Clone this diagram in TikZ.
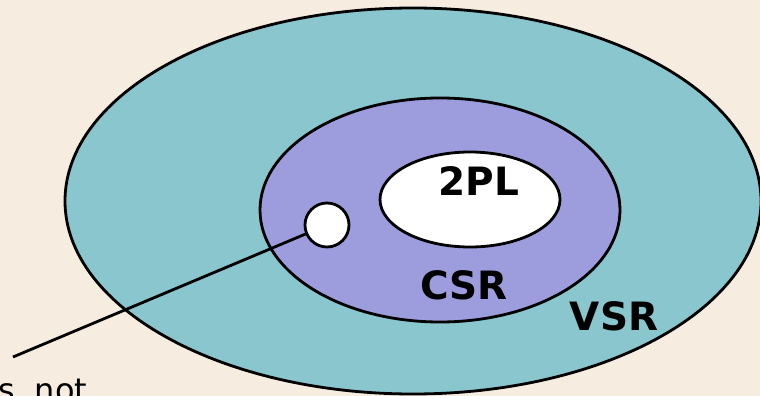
\documentclass[tikz,border=0pt]{standalone}
\usepackage{fontspec}
\setmainfont{DejaVu Sans}
\definecolor{paper}{HTML}{F6EDE0}
\definecolor{vsrfill}{HTML}{89C6CE}
\definecolor{csrfill}{HTML}{9D9DDE}
\begin{document}
\begin{tikzpicture}[x=1pt,y=-1pt,
  outline/.style={draw=black,line width=2.8pt},
  setlabel/.style={font=\fontsize{39}{41}\selectfont\bfseries,inner sep=0pt}]
  \fill[paper] (0,0) rectangle (760,396);
  \useasboundingbox (0,0) rectangle (760,396);
  \begin{scope}
    \clip (0,0) rectangle (760,396);
    % nested classes of schedules
    \draw[outline,fill=vsrfill] (413,201) ellipse [x radius=348, y radius=193];
    \draw[outline,fill=csrfill] (440,210) ellipse [x radius=180, y radius=112];
    \draw[outline,fill=white] (470,199.5) ellipse [x radius=90, y radius=47.5];
    \node[outline,fill=white,circle,minimum size=44pt,inner sep=0pt] (pt) at (327,225) {};
    \coordinate (tail) at (13,357);
    \draw[line width=2.8pt] (tail) -- (pt);
    \node[setlabel] (l2pl) at (479,181) {2PL};
    \node[setlabel] (lcsr) at (464,285) {CSR};
    \node[setlabel] (lvsr) at (614,316) {VSR};
    \node[font=\fontsize{32}{34}\selectfont,anchor=base west,inner sep=0pt] (note) at (-2,401) {s\hspace{20pt}not};
  \end{scope}
\end{tikzpicture}
\end{document}
